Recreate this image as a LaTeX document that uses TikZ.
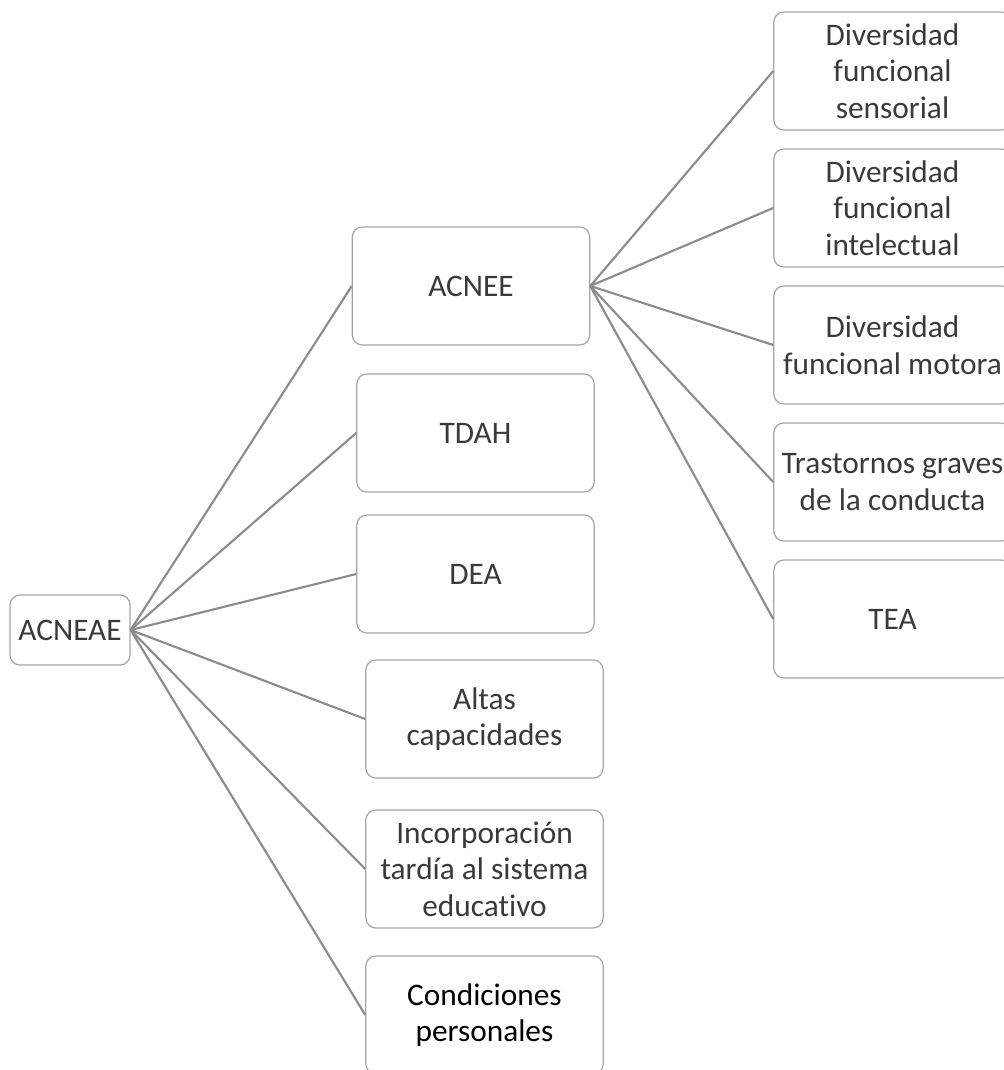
\documentclass[tikz,border=0pt]{standalone}
\usepackage{fontspec}
\setmainfont{Carlito}[Ligatures=NoCommon]
\usetikzlibrary{positioning}

\definecolor{boxgray}{HTML}{A6A6A6}
\definecolor{linegray}{HTML}{8C8C8C}
\definecolor{txtgray}{HTML}{3A3A3A}

\tikzset{
    box/.style={draw=boxgray, line width=0.9pt, rounded corners=7.5pt, align=center,
        minimum width=178pt, minimum height=88.5pt, inner xsep=0pt,
        font=\fontsize{23.5}{27.5}\selectfont, text=txtgray},
    link/.style={draw=linegray, line width=1.6pt},
}

\begin{document}
\begin{tikzpicture}[x=0.75pt, y=-0.75pt, node distance=102.75pt, on grid]
    \useasboundingbox (0,0) rectangle (1003,1070);

    % Wurzel
    \node[box, minimum width=90pt, minimum height=52.5pt, inner xsep=2pt] (acneae) at (70,630) {ACNEAE};

    % erste Ebene
    \node[box] (acnee) at (471,286) {ACNEE};
    \node[box] (tdah) at (475.5,433) {TDAH};
    \node[box] (dea) at (475.5,574) {DEA};
    \node[box] (altas) at (484.5,719) {Altas\\capacidades};
    \node[box] (incorp) at (484.5,869) {Incorporación\\tardía al sistema\\educativo};
    \node[box, text=black] (condic) at (484.5,1015) {Condiciones\\personales};

    % zweite Ebene
    \node[box] (sensorial) at (892.5,71) {Diversidad\\funcional\\sensorial};
    \node[box, below=of sensorial] (intelect) {Diversidad\\funcional\\intelectual};
    \node[box, below=of intelect] (motora) {Diversidad\\funcional motora};
    \node[box, below=of motora] (conducta) {Trastornos graves\\de la conducta};
    \node[box, below=of conducta] (tea) {TEA};

    % Verbindungen
    \foreach \n in {acnee, tdah, dea, altas, incorp, condic}
        \draw[link] (acneae.east) -- (\n.west);
    \foreach \n in {sensorial, intelect, motora, conducta, tea}
        \draw[link] (acnee.east) -- (\n.west);
\end{tikzpicture}
\end{document}
